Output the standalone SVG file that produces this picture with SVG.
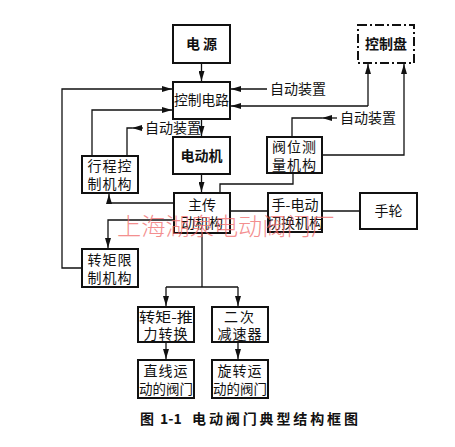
<svg xmlns="http://www.w3.org/2000/svg" width="455" height="447" viewBox="0 0 455 447">
<defs>
<marker id="ah" viewBox="0 0 10 6" refX="10" refY="3" markerWidth="10" markerHeight="6" markerUnits="userSpaceOnUse" orient="auto">
<path d="M0,0 L10,3 L0,6 Z" fill="#111"/>
</marker>
<style>
.box{fill:#fff;stroke:#111;stroke-width:2}
.dash{fill:#fff;stroke:#111;stroke-width:2;stroke-dasharray:9,3,2,3}
.ln{fill:none;stroke:#111;stroke-width:1.3}
.t{font-family:"Noto Sans CJK SC","Noto Sans",sans-serif;font-size:14px;fill:#111;text-anchor:middle}
.lbl{font-family:"Noto Sans CJK SC","Noto Sans",sans-serif;font-size:14px;fill:#111}
.cap{font-family:"Noto Sans CJK SC","Noto Sans",sans-serif;font-size:14px;font-weight:bold;fill:#111}
.wm{font-family:"Noto Sans CJK SC",sans-serif;font-size:24px;font-weight:300;fill:#f06a6a;opacity:0.75}
</style>
</defs>
<rect width="455" height="447" fill="#fff"/>
<g id="connectors">
<path class="ln" d="M201.5,63 L201.5,81" marker-end="url(#ah)"/>
<path class="ln" d="M201.5,119 L201.5,136" marker-end="url(#ah)"/>
<path class="ln" d="M201.5,174 L201.5,192" marker-end="url(#ah)"/>
<path class="ln" d="M267,89 L231,89" marker-end="url(#ah)"/>
<path class="ln" d="M368,106 L231,106" marker-end="url(#ah)"/>
<path class="ln" d="M368,106 L368,64" marker-end="url(#ah)"/>
<path class="ln" d="M322,155 L404,155 L404,64" marker-end="url(#ah)"/>
<path class="ln" d="M337,118 L322,118" marker-end="url(#ah)"/>
<path class="ln" d="M322,118 L292,118 L292,137"/>
<path class="ln" d="M143,128 L132,128" marker-end="url(#ah)"/>
<path class="ln" d="M132,128 L127,128 L127,156"/>
<path class="ln" d="M92,156 L92,110 L172,110" marker-end="url(#ah)"/>
<path class="ln" d="M82,268 L62,268 L62,89 L172,89" marker-end="url(#ah)"/>
<path class="ln" d="M174,203 L109,203 L109,194" marker-end="url(#ah)"/>
<path class="ln" d="M174,220 L108,220 L108,248" marker-end="url(#ah)"/>
<path class="ln" d="M220,193 L220,184 L293,184 L293,173"/>
<path class="ln" d="M230,211 L268,211"/>
<path class="ln" d="M322,211 L360,211"/>
<path class="ln" d="M202,233 L202,287"/>
<path class="ln" d="M166,287 L238,287"/>
<path class="ln" d="M166,287 L166,306" marker-end="url(#ah)"/>
<path class="ln" d="M238,287 L238,306" marker-end="url(#ah)"/>
<path class="ln" d="M166,342 L166,359" marker-end="url(#ah)"/>
<path class="ln" d="M238,342 L238,359" marker-end="url(#ah)"/>
</g>
<g id="dianyuan"><rect class="box" x="173" y="25" width="57" height="38"/><text class="t" x="201.5" y="49" font-weight="bold">电 源</text></g>
<g id="kongzhidianlu"><rect class="box" x="173" y="82" width="57" height="37"/><text class="t" x="201.5" y="105" textLength="55" lengthAdjust="spacingAndGlyphs">控制电路</text></g>
<g id="diandongji"><rect class="box" x="173" y="137" width="57" height="37"/><text class="t" x="201.5" y="161" font-weight="bold">电动机</text></g>
<g id="kongzhipan"><rect class="dash" x="358" y="25" width="56" height="38"/><text class="t" x="386" y="49" font-weight="bold">控制盘</text></g>
<g id="xingcheng"><rect class="box" x="82" y="156" width="56" height="37"/><text class="t" x="110" y="171" letter-spacing="1">行程控</text><text class="t" x="110" y="189" letter-spacing="1">制机构</text></g>
<g id="famen-weizhi"><rect class="box" x="267" y="137" width="55" height="36"/><text class="t" x="294.5" y="152" letter-spacing="1">阀位测</text><text class="t" x="294.5" y="170" letter-spacing="1">量机构</text></g>
<g id="zhuanju"><rect class="box" x="82" y="249" width="56" height="38"/><text class="t" x="110" y="265" letter-spacing="1">转矩限</text><text class="t" x="110" y="283" letter-spacing="1">制机构</text></g>
<g id="zhuchuan"><rect class="box" x="174" y="193" width="56" height="40"/><text class="t" x="202" y="210">主传</text><text class="t" x="202" y="228">动机构</text></g>
<g id="shoudian"><rect class="box" x="268" y="193" width="54" height="39"/><text class="t" x="295" y="210">手-电动</text><text class="t" x="295" y="228">切换机构</text></g>
<g id="shoulun"><rect class="box" x="360" y="193" width="57" height="36"/><text class="t" x="388.5" y="216">手轮</text></g>
<g id="tuili"><rect class="box" x="138" y="307" width="56" height="35"/><text class="t" x="166" y="322" textLength="54" lengthAdjust="spacingAndGlyphs">转矩-推</text><text class="t" x="166" y="339" letter-spacing="1">力转换</text></g>
<g id="jiansu"><rect class="box" x="212" y="307" width="56" height="35"/><text class="t" x="240" y="322" letter-spacing="2">二次</text><text class="t" x="240" y="339" letter-spacing="1">减速器</text></g>
<g id="zhixian"><rect class="box" x="138" y="360" width="56" height="38"/><text class="t" x="166" y="376" letter-spacing="1">直线运</text><text class="t" x="166" y="394" textLength="54" lengthAdjust="spacingAndGlyphs">动的阀门</text></g>
<g id="xuanzhuan"><rect class="box" x="212" y="360" width="56" height="38"/><text class="t" x="240" y="376" letter-spacing="1">旋转运</text><text class="t" x="240" y="394" textLength="54" lengthAdjust="spacingAndGlyphs">动的阀门</text></g>
<g id="labels">
<text class="lbl" x="270" y="94">自动装置</text>
<text class="lbl" x="340" y="123">自动装置</text>
<text class="lbl" x="145" y="133">自动装置</text>
</g>
<text class="wm" x="117" y="235" textLength="218" lengthAdjust="spacingAndGlyphs">上海湖泉电动阀门厂</text>
<g id="caption">
<text class="cap" x="140" y="424">图</text>
<text class="cap" x="160" y="424" font-family="Liberation Serif, serif">1-1</text>
<text class="cap" x="192" y="424" textLength="166" lengthAdjust="spacing">电动阀门典型结构框图</text>
</g>
</svg>
